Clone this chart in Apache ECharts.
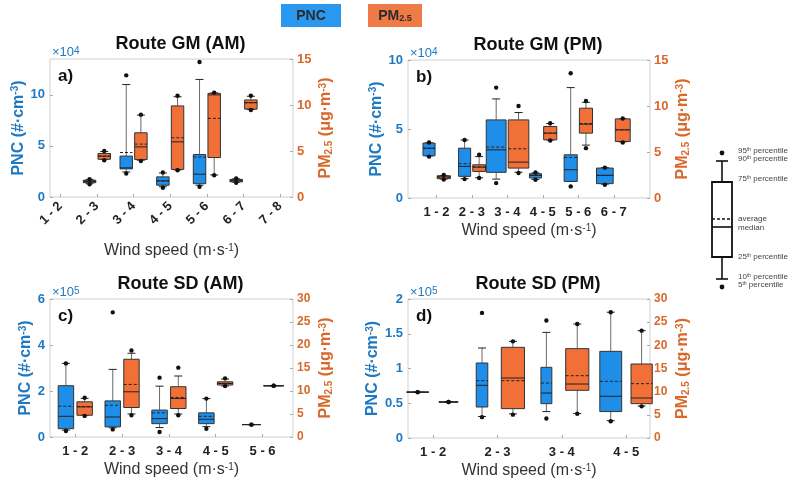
<!DOCTYPE html>
<html>
<head>
<meta charset="utf-8">
<script src="https://cdn.jsdelivr.net/npm/echarts@6/dist/echarts.min.js"></script>
<style>
  html, body { margin: 0; background: #fff; }
  #chart { width: 800px; height: 495px; }
</style>
</head>
<body>
<div id="chart"></div>
<script>
// wind speed classes
const catsGmAm = ['1 - 2', '2 - 3', '3 - 4', '4 - 5', '5 - 6', '6 - 7', '7 - 8']
const catsGmPm = ['1 - 2', '2 - 3', '3 - 4', '4 - 5', '5 - 6', '6 - 7']
const catsSdAm = ['1 - 2', '2 - 3', '3 - 4', '4 - 5', '5 - 6']
const catsSdPm = ['1 - 2', '2 - 3', '3 - 4', '4 - 5']

// rows: [class no., p5, p10, p25, median, mean, p75, p90, p95]
// PNC in #/cm3, PM2.5 in ug/m3
const gmAmPnc = [
  [2, 12500, 13000, 14000, 15200, 15500, 16400, 17200, 17500],
  [3, 23000, 24500, 27500, 28500, 43500, 40000, 110000, 119000],
  [4, 9000, 10000, 11500, 15700, 16000, 19700, 23500, 24000],
  [5, 10000, 11500, 13000, 22300, 39000, 41500, 115000, 132000],
  [6, 14000, 14500, 14800, 16000, 16200, 17200, 17800, 18200]
]
const gmAmPm25 = [
  [2, 4.0, 4.1, 4.1, 4.44, 4.45, 4.73, 4.95, 5.0],
  [3, 3.9, 4.0, 4.07, 5.45, 5.75, 6.98, 8.9, 8.95],
  [4, 2.9, 2.95, 3.0, 6.0, 6.44, 9.9, 10.9, 11.0],
  [5, 2.36, 2.4, 4.29, 11.1, 8.55, 11.27, 11.3, 11.35],
  [6, 9.45, 9.5, 9.55, 10.25, 10.25, 10.55, 10.95, 11.0]
]
const gmPmPnc = [
  [1, 30000, 30500, 30600, 36100, 36000, 39800, 40000, 40200],
  [2, 13700, 14000, 15700, 22900, 24800, 36100, 42000, 42000],
  [3, 10800, 13700, 18600, 34900, 36900, 56600, 71800, 80000],
  [4, 13200, 13500, 14500, 16400, 16400, 17600, 18200, 18500],
  [5, 8400, 12000, 12000, 20500, 29400, 31300, 80000, 90400],
  [6, 9600, 10000, 10400, 16400, 16400, 21700, 22000, 22000]
]
const gmPmPm25 = [
  [1, 2.0, 2.06, 2.1, 2.28, 2.28, 2.42, 2.45, 2.5],
  [2, 2.17, 2.2, 2.89, 3.36, 3.36, 3.61, 4.5, 4.7],
  [3, 2.71, 2.8, 3.25, 3.9, 5.35, 8.49, 9.29, 10.0],
  [4, 6.25, 6.3, 6.32, 7.05, 7.05, 7.77, 8.1, 8.13],
  [5, 5.42, 5.75, 7.05, 8.02, 8.1, 9.76, 10.4, 10.55],
  [6, 6.04, 6.1, 6.14, 7.41, 7.41, 8.6, 8.62, 8.64]
]
const sdAmPnc = [
  [1, 26000, 30000, 36000, 90000, 134000, 223000, 320000, 320000],
  [2, 33000, 40000, 44000, 87000, 138000, 157000, 294000, 542000],
  [3, 22000, 41000, 58000, 80000, 105000, 117000, 221000, 258000],
  [4, 36000, 45000, 58000, 77000, 90000, 105000, 167000, 167000],
  [5, 54000, 54000, 54000, 54000, 54000, 54000, 54000, 54000]
]
const sdAmPm25 = [
  [1, 4.59, 4.7, 4.73, 6.55, 6.6, 7.65, 8.4, 8.52],
  [2, 4.73, 5.0, 6.41, 9.83, 11.43, 16.9, 18.2, 18.8],
  [3, 4.73, 5.0, 6.19, 8.38, 8.6, 10.93, 13.26, 15.08],
  [4, 11.07, 11.1, 11.3, 11.65, 11.65, 12.0, 12.6, 12.75],
  [5, 11.14, 11.14, 11.14, 11.14, 11.14, 11.14, 11.14, 11.14]
]
const sdPmPnc = [
  [1, 66000, 66000, 66000, 66000, 66000, 66000, 66000, 66000],
  [2, 30000, 31000, 44600, 75800, 82500, 107900, 129500, 180000],
  [3, 28000, 38000, 49400, 64700, 79000, 101700, 152000, 169000],
  [4, 24000, 25000, 38000, 60000, 81500, 124700, 181000, 181000]
]
const sdPmPm25 = [
  [1, 7.77, 7.77, 7.77, 7.77, 7.77, 7.77, 7.77, 7.77],
  [2, 5.04, 5.2, 6.33, 12.95, 12.37, 19.57, 20.86, 20.86],
  [3, 5.25, 5.3, 10.29, 11.65, 13.45, 19.28, 24.6, 24.6],
  [4, 6.83, 6.9, 7.41, 8.63, 11.73, 15.97, 23.17, 23.17]
]

// ---- layout / styling ----
const FONT = 'Liberation Sans, Arial, sans-serif'
const BLUE = '#1e8ee8'
const ORANGE = '#f07038'
const BLUE_TXT = '#1f79c2'
const ORANGE_TXT = '#d9682b'

// box widths (in class units) per class, and base offset from the class centre
const panels = [
  {
    title: 'Route GM (AM)', tag: 'a)', exp: '4', cats: catsGmAm, pnc: gmAmPnc, pm: gmAmPm25,
    grid: { left: 50, top: 59, width: 243, height: 138 },
    xMin: 0.72, xMax: 7.35, rotate: 45, off: 0.19,
    wPnc: [0.34, 0.34, 0.34, 0.34, 0.34, 0.34, 0.34], wPm: [0.34, 0.34, 0.34, 0.34, 0.34, 0.34, 0.34],
    pncMax: 135000, pncStep: 50000, pncDiv: 1e4, pmMax: 15, pmStep: 5, xNameGap: 46
  },
  {
    title: 'Route GM (PM)', tag: 'b)', exp: '4', cats: catsGmPm, pnc: gmPmPnc, pm: gmPmPm25,
    grid: { left: 408, top: 60, width: 242, height: 138 },
    xMin: 0.2, xMax: 7.02, rotate: 0, off: 0.2,
    wPnc: [0.34, 0.34, 0.56, 0.34, 0.37, 0.47], wPm: [0.37, 0.36, 0.58, 0.37, 0.37, 0.42],
    pncMax: 100000, pncStep: 50000, pncDiv: 1e4, pmMax: 15, pmStep: 5, xNameGap: 25
  },
  {
    title: 'Route SD (AM)', tag: 'c)', exp: '5', cats: catsSdAm, pnc: sdAmPnc, pm: sdAmPm25,
    grid: { left: 50, top: 299, width: 243, height: 138 },
    xMin: 0.46, xMax: 5.65, rotate: 0, off: 0.2,
    wPnc: [0.33, 0.33, 0.33, 0.33, 0.4], wPm: [0.33, 0.33, 0.33, 0.33, 0.43],
    pncMax: 600000, pncStep: 200000, pncDiv: 1e5, pmMax: 30, pmStep: 5, xNameGap: 25
  },
  {
    title: 'Route SD (PM)', tag: 'd)', exp: '5', cats: catsSdPm, pnc: sdPmPnc, pm: sdPmPm25,
    grid: { left: 408, top: 299, width: 242, height: 139 },
    xMin: 0.61, xMax: 4.37, rotate: 0, off: 0.24,
    wPnc: [0.34, 0.18, 0.17, 0.34], wPm: [0.3, 0.36, 0.36, 0.33],
    pncMax: 200000, pncStep: 50000, pncDiv: 1e5, pmMax: 30, pmStep: 5, xNameGap: 25
  }
]

// one box: whiskers p10-p90, dots p5/p95, dashed mean, solid median
function boxItem (p, side, fill) {
  return function (params, api) {
    const cat = api.value(0)
    const wMe = (side < 0 ? p.wPnc : p.wPm)[cat - 1]
    const wOt = (side < 0 ? p.wPm : p.wPnc)[cat - 1]
    const off = Math.max(p.off, (wMe + wOt) / 4 + 0.03)
    const xc = cat + side * off
    const y = i => api.coord([xc, api.value(i)])[1]
    const cx = api.coord([xc, 0])[0]
    const x0 = api.coord([xc - wMe / 2, 0])[0]
    const x1 = api.coord([xc + wMe / 2, 0])[0]
    const p5 = y(1), p10 = y(2), q1 = y(3), med = y(4), mean = y(5), q3 = y(6), p90 = y(7), p95 = y(8)
    const cap = 4
    const hl = (yy, a, b, style) => ({ type: 'line', shape: { x1: a, y1: yy, x2: b, y2: yy }, style: style })
    return {
      type: 'group',
      children: [
        { type: 'line', shape: { x1: cx, y1: q3, x2: cx, y2: p90 }, style: { stroke: '#6a6a6a', lineWidth: 1 } },
        { type: 'line', shape: { x1: cx, y1: q1, x2: cx, y2: p10 }, style: { stroke: '#6a6a6a', lineWidth: 1 } },
        hl(p90, cx - cap, cx + cap, { stroke: '#222', lineWidth: 1 }),
        hl(p10, cx - cap, cx + cap, { stroke: '#222', lineWidth: 1 }),
        { type: 'rect', shape: { x: x0, y: q3, width: x1 - x0, height: q1 - q3 }, style: { fill: fill, stroke: '#333', lineWidth: 1 } },
        hl(mean, x0, x1, { stroke: '#222', lineWidth: 1, lineDash: [3, 2] }),
        hl(med, x0, x1, { stroke: '#222', lineWidth: 1 }),
        { type: 'circle', shape: { cx: cx, cy: p95, r: 2.2 }, style: { fill: '#111' } },
        { type: 'circle', shape: { cx: cx, cy: p5, r: 2.2 }, style: { fill: '#111' } }
      ]
    }
  }
}

const supRich = {
  b: { fontFamily: FONT, fontWeight: 'bold', fontSize: 16 },
  sup: { fontFamily: FONT, fontWeight: 'bold', fontSize: 10, verticalAlign: 'top' },
  sub: { fontFamily: FONT, fontWeight: 'bold', fontSize: 10, verticalAlign: 'bottom' }
}

const grids = []
const xAxes = []
const yAxes = []
const series = []
const graphics = []

panels.forEach((p, k) => {
  grids.push(Object.assign({ show: true, borderColor: '#d0d0d0', borderWidth: 1, backgroundColor: '#fff' }, p.grid))
  const ticks = p.cats.map((c, i) => i + 1)
  xAxes.push({
    type: 'value', gridIndex: k, min: p.xMin, max: p.xMax,
    axisLine: { show: false }, splitLine: { show: false },
    axisTick: { show: true, inside: true, length: 3, lineStyle: { color: '#aaa' }, customValues: ticks },
    axisLabel: {
      customValues: ticks, rotate: p.rotate, margin: p.rotate ? 7 : 8,
      formatter: v => p.cats[Math.round(v) - 1] || '',
      color: '#222', fontFamily: FONT, fontWeight: 'bold', fontSize: 13
    },
    name: '{n|Wind speed (m·s}{s|-1}{n|)}', nameLocation: 'middle', nameGap: p.xNameGap,
    nameTextStyle: {
      rich: {
        n: { fontFamily: FONT, fontSize: 16, color: '#333' },
        s: { fontFamily: FONT, fontSize: 10, color: '#333', verticalAlign: 'top' }
      }
    }
  })
  yAxes.push({
    type: 'value', gridIndex: k, position: 'left', min: 0, max: p.pncMax, interval: p.pncStep,
    axisLine: { show: false }, splitLine: { show: false },
    axisTick: { show: true, inside: true, length: 3, lineStyle: { color: '#aaa' } },
    axisLabel: {
      showMaxLabel: p.pncMax % p.pncStep === 0, margin: 5,
      formatter: v => String(+(v / p.pncDiv).toFixed(1)),
      color: BLUE_TXT, fontFamily: FONT, fontWeight: 'bold', fontSize: 13
    },
    name: '{b|PNC (#·cm}{sup|-3}{b|)}', nameLocation: 'middle', nameRotate: 90, nameGap: k === 2 ? 14 : 18,
    nameTextStyle: { color: BLUE_TXT, rich: supRich }
  })
  yAxes.push({
    type: 'value', gridIndex: k, position: 'right', min: 0, max: p.pmMax, interval: p.pmStep,
    axisLine: { show: false }, splitLine: { show: false },
    axisTick: { show: true, inside: true, length: 3, lineStyle: { color: '#aaa' } },
    axisLabel: { margin: 4, color: ORANGE_TXT, fontFamily: FONT, fontWeight: 'bold', fontSize: p.pmMax > 15 ? 12 : 13 },
    name: '{b|PM}{sub|2.5}{b| (μg·m}{sup|-3}{b|)}', nameLocation: 'middle', nameRotate: 90, nameGap: 25,
    nameTextStyle: { color: ORANGE_TXT, rich: supRich }
  })
  series.push({
    type: 'custom', xAxisIndex: k, yAxisIndex: 2 * k, data: p.pnc, silent: true, clip: false,
    encode: { x: 0, y: [1, 2, 3, 4, 5, 6, 7, 8] }, renderItem: boxItem(p, -1, BLUE)
  })
  series.push({
    type: 'custom', xAxisIndex: k, yAxisIndex: 2 * k + 1, data: p.pm, silent: true, clip: false,
    encode: { x: 0, y: [1, 2, 3, 4, 5, 6, 7, 8] }, renderItem: boxItem(p, 1, ORANGE)
  })

  const g = p.grid
  graphics.push({
    type: 'text', x: g.left + g.width / 2 + 9, y: g.top - 15,
    style: { text: p.title, align: 'center', verticalAlign: 'middle', fontFamily: FONT, fontWeight: 'bold', fontSize: 18, fill: '#111' }
  })
  graphics.push({
    type: 'text', left: g.left + 8, top: g.top + 9,
    style: { text: p.tag, fontFamily: FONT, fontWeight: 'bold', fontSize: 17, fill: '#111' }
  })
  graphics.push({
    type: 'text', left: g.left + 2, top: g.top - 13,
    style: {
      text: '{t|×10}{e|' + p.exp + '}', fill: BLUE_TXT,
      rich: { t: { fontFamily: FONT, fontSize: 13, fill: BLUE_TXT }, e: { fontFamily: FONT, fontSize: 10, fill: BLUE_TXT, verticalAlign: 'top' } }
    }
  })
})

// top legend
graphics.push(
  { type: 'rect', shape: { x: 281, y: 4, width: 60, height: 23 }, style: { fill: '#2a98ee' } },
  { type: 'text', x: 311, y: 16, style: { text: 'PNC', align: 'center', verticalAlign: 'middle', fontFamily: FONT, fontWeight: 'bold', fontSize: 14, fill: '#2b2b2b' } },
  { type: 'rect', shape: { x: 368, y: 4, width: 54, height: 23 }, style: { fill: '#f07a45' } },
  {
    type: 'text', x: 395, y: 16,
    style: {
      text: '{m|PM}{s|2.5}', align: 'center', verticalAlign: 'middle',
      rich: { m: { fontFamily: FONT, fontWeight: 'bold', fontSize: 14, fill: '#2b2b2b' }, s: { fontFamily: FONT, fontWeight: 'bold', fontSize: 9, fill: '#2b2b2b', verticalAlign: 'bottom' } }
    }
  }
)

// box explanation on the right
const kx = 722
const keyLine = (x1, y1, x2, y2, dash) => ({ type: 'line', shape: { x1, y1, x2, y2 }, style: { stroke: '#111', lineWidth: 1.6, lineDash: dash || null } })
graphics.push(
  { type: 'circle', shape: { cx: kx, cy: 153, r: 2.4 }, style: { fill: '#111' } },
  keyLine(kx - 6, 161, kx + 6, 161),
  keyLine(kx, 161, kx, 182),
  { type: 'rect', shape: { x: kx - 10, y: 182, width: 20, height: 75 }, style: { fill: '#fff', stroke: '#111', lineWidth: 1.8 } },
  keyLine(kx - 10, 219, kx + 10, 219, [3, 2]),
  keyLine(kx - 10, 227, kx + 10, 227),
  keyLine(kx, 257, kx, 279),
  keyLine(kx - 6, 279, kx + 6, 279),
  { type: 'circle', shape: { cx: kx, cy: 287, r: 2.4 }, style: { fill: '#111' } }
)
const keyLabels = [
  ['95', 'th percentile', 151], ['90', 'th percentile', 159], ['75', 'th percentile', 179],
  ['average', '', 219], ['median', '', 228], ['25', 'th percentile', 257],
  ['10', 'th percentile', 277], ['5', 'th percentile', 285]
]
keyLabels.forEach(l => {
  const sup = l[1] ? l[1].slice(0, 2) : ''
  const rest = l[1] ? l[1].slice(2) : ''
  graphics.push({
    type: 'text', x: 738, y: l[2],
    style: {
      text: '{n|' + l[0] + '}' + (sup ? '{s|' + sup + '}{n|' + rest + '}' : ''), verticalAlign: 'middle',
      rich: { n: { fontFamily: FONT, fontSize: 8, fill: '#444' }, s: { fontFamily: FONT, fontSize: 5, fill: '#444', verticalAlign: 'top' } }
    }
  })
})

const chart = echarts.init(document.getElementById('chart'))
chart.setOption({
  animation: false,
  backgroundColor: '#fff',
  grid: grids,
  xAxis: xAxes,
  yAxis: yAxes,
  series: series,
  graphic: graphics
})
window.addEventListener('resize', () => chart.resize())
</script>
</body>
</html>
